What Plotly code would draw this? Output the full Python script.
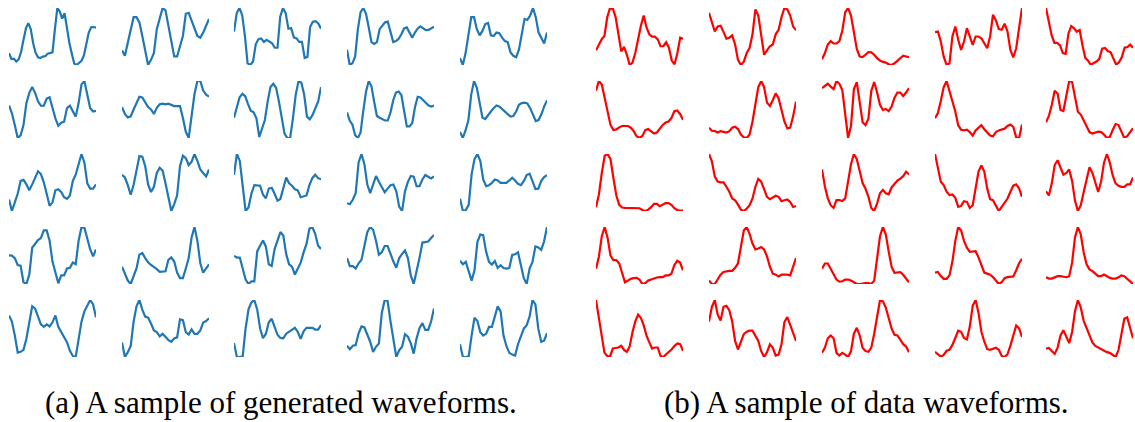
import plotly.graph_objects as go

# ---- generated waveforms (blue), row-major 5x5, heights ----
g01 = [42,25,26,18,24,45,80,112,127,110,70,43,30,28,32,33,40,43,44,110,170,160,140,155,110,70,40,12,8,15,20,35,70,100,115,116,114]
g02 = [48,32,70,110,145,145,130,90,50,5,20,40,110,145,172,165,120,70,30,30,60,90,155,158,135,110,90,85,100,120,140]
g03 = [102,155,170,150,90,10,5,15,65,80,82,72,78,72,68,55,55,145,170,155,110,112,85,82,72,72,25,28,115,130,132,125,110]
g04 = [50,5,10,30,110,160,172,155,115,72,67,72,110,120,130,132,105,72,75,82,95,112,115,100,85,100,112,118,112,107,108,112,117]
g05 = [25,5,40,90,145,145,110,92,105,125,128,92,90,100,98,85,75,72,42,32,28,50,100,140,137,150,172,145,100,85,68,100]
g06 = [108,85,50,12,20,50,115,145,162,145,120,107,107,128,132,100,70,48,57,60,100,107,90,75,115,170,180,140,100,90,92]
g07 = [102,82,72,75,95,115,132,130,115,102,95,82,100,110,112,110,112,108,105,105,105,70,30,12,70,140,178,178,150,138,133]
g08 = [72,100,132,142,135,112,92,88,70,15,40,65,120,162,172,160,120,70,25,12,12,70,140,180,175,140,75,67,80,100,120,162]
g09 = [85,62,50,20,12,28,90,145,175,160,115,75,70,65,62,62,85,120,142,145,135,90,45,45,55,100,130,128,120,110,105,102,105]
g10 = [30,12,35,65,140,180,160,115,72,68,80,90,100,108,105,98,90,82,75,77,90,110,115,116,114,100,80,62,65,82,105,123]
g11 = [38,5,30,55,92,95,82,65,82,102,120,112,88,55,20,30,65,68,60,45,40,50,92,110,142,170,145,85,70,70,82]
g12 = [110,102,80,52,80,125,164,162,135,82,60,75,115,130,122,85,40,5,25,50,135,165,158,138,148,170,150,125,115,105,125]
g13 = [110,170,150,70,5,15,55,80,80,78,52,42,70,72,55,35,40,75,102,85,78,68,65,45,48,50,80,100,110,100,97]
g14 = [25,22,35,55,145,170,140,80,55,80,105,88,70,57,68,78,80,60,15,2,60,88,105,103,75,75,95,108,103,98,104]
g15 = [38,2,5,20,110,155,170,150,95,75,78,85,95,92,85,84,85,92,100,92,82,78,90,108,112,90,67,68,90,102,108]
g16 = [78,77,70,50,48,0,-5,22,100,110,122,128,150,150,120,60,25,-3,20,20,40,42,57,52,120,160,158,125,95,75,95]
g17 = [45,25,5,-5,15,40,80,85,70,58,50,45,38,30,30,32,65,72,60,28,12,12,40,70,130,160,120,55,28,40,52]
g18 = [75,70,70,35,5,-8,0,0,88,105,120,102,50,45,95,120,145,135,80,50,43,20,40,55,85,110,155,160,140,105,95]
g19 = [70,47,47,40,55,65,105,145,160,152,120,80,87,105,105,80,60,42,70,82,92,70,20,-5,30,70,115,117,118,128,137]
g20 = [63,53,60,30,5,35,118,140,138,90,60,52,62,42,50,42,40,42,80,82,88,50,12,-5,40,60,105,102,95,120,162]
g21 = [108,90,50,0,2,8,40,90,135,128,105,82,75,82,76,88,108,75,60,45,30,5,-10,-13,45,90,120,135,153,140,103]
g22 = [30,-12,2,20,90,135,153,125,105,102,85,65,60,48,55,45,37,32,42,45,97,95,60,53,68,55,55,65,88,92,100]
g23 = [28,-12,-12,-10,70,125,145,152,125,70,42,55,88,98,75,52,43,42,55,60,65,72,60,40,62,72,72,72,67,67,80]
g24 = [18,8,18,20,55,75,72,52,30,0,15,25,115,153,150,90,35,-15,5,15,52,45,25,-5,40,70,85,65,65,90,128]
g25 = [25,-12,-12,-10,50,102,92,60,50,55,75,75,105,135,120,50,20,0,-5,-8,25,50,70,80,105,153,140,70,32,35,57]

# ---- data waveforms (red), row-major 5x5 ----
d01 = [48,65,80,90,145,172,170,145,100,45,58,35,5,12,40,85,120,150,115,95,88,88,80,60,60,72,55,18,7,40,85,82]
d02 = [158,130,103,118,120,102,82,85,92,65,20,5,15,40,55,95,168,150,90,35,48,60,65,95,108,145,172,168,150,118,107]
d03 = [22,40,65,75,68,68,75,105,160,172,150,100,52,30,28,35,43,42,35,25,18,14,12,7,5,10,18,27,32,30,28]
d04 = [103,105,75,30,5,10,90,120,80,50,75,115,90,65,90,90,85,70,55,90,155,138,112,110,128,105,50,28,55,115,175]
d05 = [175,135,95,72,72,65,42,40,100,122,115,105,110,65,28,20,7,13,17,25,55,57,48,45,25,8,15,30,58,60,67,58]
d06 = [150,178,168,125,85,50,35,37,43,47,47,47,42,32,17,12,18,35,38,32,25,28,40,50,57,60,70,90,92,82,65]
d07 = [42,33,32,28,32,30,28,32,42,45,38,22,14,12,22,60,115,160,178,160,115,105,122,142,128,90,60,40,42,75,118]
d08 = [158,165,170,162,155,178,170,152,90,15,50,155,175,120,60,52,70,150,175,145,110,95,98,92,105,130,145,145,135,145,158]
d09 = [70,85,120,160,178,150,120,90,50,37,35,37,30,20,35,42,50,38,30,20,18,30,35,37,40,48,52,45,15,13,52]
d10 = [60,78,110,150,142,95,92,135,178,175,130,90,82,65,45,32,28,30,33,32,25,15,18,38,55,52,35,15,20,30,43]
d11 = [15,52,115,165,170,155,100,50,22,14,13,13,12,12,14,12,7,4,8,15,25,25,18,22,27,27,22,12,7,5,5]
d12 = [172,150,105,90,88,88,75,60,40,35,22,7,3,10,20,40,75,98,90,65,45,38,42,48,45,32,35,37,30,15,18]
d13 = [125,75,40,20,12,35,35,32,40,85,140,170,155,120,85,68,45,12,3,25,55,65,55,52,72,82,92,98,105,118,110]
d14 = [172,125,90,80,60,50,52,42,15,18,32,30,12,20,70,120,138,120,70,38,35,20,3,15,28,40,60,78,82,70,45]
d15 = [62,50,85,138,152,132,110,115,125,92,35,5,22,60,95,132,115,85,60,90,145,170,145,108,85,78,75,75,82,82,102]
d16 = [40,75,135,162,130,78,65,65,55,25,0,5,10,12,13,8,-5,-2,5,8,12,14,15,15,20,20,25,50,63,58,35]
d17 = [5,-5,-5,8,22,30,32,33,33,42,55,100,150,160,140,112,95,98,102,95,75,45,25,22,17,22,23,22,20,42,70]
d18 = [40,55,55,40,22,8,2,3,8,8,5,0,-5,-5,-3,-2,-2,-5,5,75,135,162,140,90,45,28,30,30,22,10,0]
d19 = [28,30,18,10,10,20,60,120,160,150,120,100,88,88,90,72,50,28,25,22,15,5,-5,0,12,15,15,17,35,55,68]
d20 = [12,8,8,12,15,15,13,12,15,55,130,160,138,85,50,35,30,22,15,15,20,15,10,8,8,12,17,15,8,0,-8]
d21 = [155,100,50,0,-10,-12,12,13,15,20,8,2,18,60,92,112,102,80,50,30,12,15,15,-10,-13,-5,2,10,20,27,25,5]
d22 = [92,135,155,112,95,135,138,125,92,35,10,35,55,62,65,65,52,35,5,-12,2,25,15,-8,-5,25,90,105,82,58,35]
d23 = [0,15,42,50,42,0,-8,0,-5,-12,5,55,72,50,15,5,3,15,55,105,152,148,130,100,70,52,50,38,25,18,2]
d24 = [2,-5,-12,-7,5,8,22,42,63,60,42,38,75,135,152,115,60,32,10,8,12,14,8,-10,-13,-5,20,50,78,70,45]
d25 = [12,14,5,-3,15,50,65,45,28,60,120,152,130,92,70,50,30,20,15,12,5,2,0,-7,-12,8,55,98,102,75,42]

gen_waves = [g01,g02,g03,g04,g05,g06,g07,g08,g09,g10,g11,g12,g13,g14,g15,
             g16,g17,g18,g19,g20,g21,g22,g23,g24,g25]
data_waves = [d01,d02,d03,d04,d05,d06,d07,d08,d09,d10,d11,d12,d13,d14,d15,
              d16,d17,d18,d19,d20,d21,d22,d23,d24,d25]

captions = ["(a) A sample of generated waveforms.", "(b) A sample of data waveforms."]

W, H = 1135, 422
left_x0 = [9, 122, 234, 347, 460]
right_x0 = [596, 709, 822, 935, 1046]
cell_w = 87
row_top = [8, 81, 154, 227, 300]
cell_h = 57

fig = go.Figure()
layout = dict(width=W, height=H, margin=dict(l=0, r=0, t=0, b=0),
              paper_bgcolor="white", plot_bgcolor="white", showlegend=False)

k = 0
for panel, (waves, x0s, color) in enumerate([(gen_waves, left_x0, "#1f77b4"),
                                              (data_waves, right_x0, "#ff0000")]):
    for i, w in enumerate(waves):
        r, c = divmod(i, 5)
        k += 1
        xa = "x" if k == 1 else f"x{k}"
        ya = "y" if k == 1 else f"y{k}"
        fig.add_trace(go.Scatter(x=list(range(len(w))), y=w, mode="lines",
                                 line=dict(color=color, width=2.2),
                                 xaxis=xa, yaxis=ya, cliponaxis=False,
                                 hoverinfo="skip"))
        xd = [x0s[c] / W, (x0s[c] + cell_w) / W]
        yd = [1 - (row_top[r] + cell_h) / H, 1 - row_top[r] / H]
        lo, hi = min(w), max(w)
        ax_common = dict(visible=False, showgrid=False, zeroline=False, fixedrange=True)
        layout["xaxis" if k == 1 else f"xaxis{k}"] = dict(domain=xd, range=[0, len(w) - 1],
                                                          anchor=ya, **ax_common)
        layout["yaxis" if k == 1 else f"yaxis{k}"] = dict(domain=yd, range=[lo, hi],
                                                          anchor=xa, **ax_common)

fig.update_layout(**layout)
for cx, txt in zip([281, 866], captions):
    fig.add_annotation(text=txt, x=cx / W, y=1 - 402 / H, xref="paper", yref="paper",
                       showarrow=False, xanchor="center", yanchor="middle",
                       font=dict(family="Liberation Serif, Times New Roman, serif",
                                 size=31, color="black"))

fig.write_html("out.html", config={"displayModeBar": False},
               post_script="document.body.style.margin='0px';document.body.style.overflow='hidden';")
